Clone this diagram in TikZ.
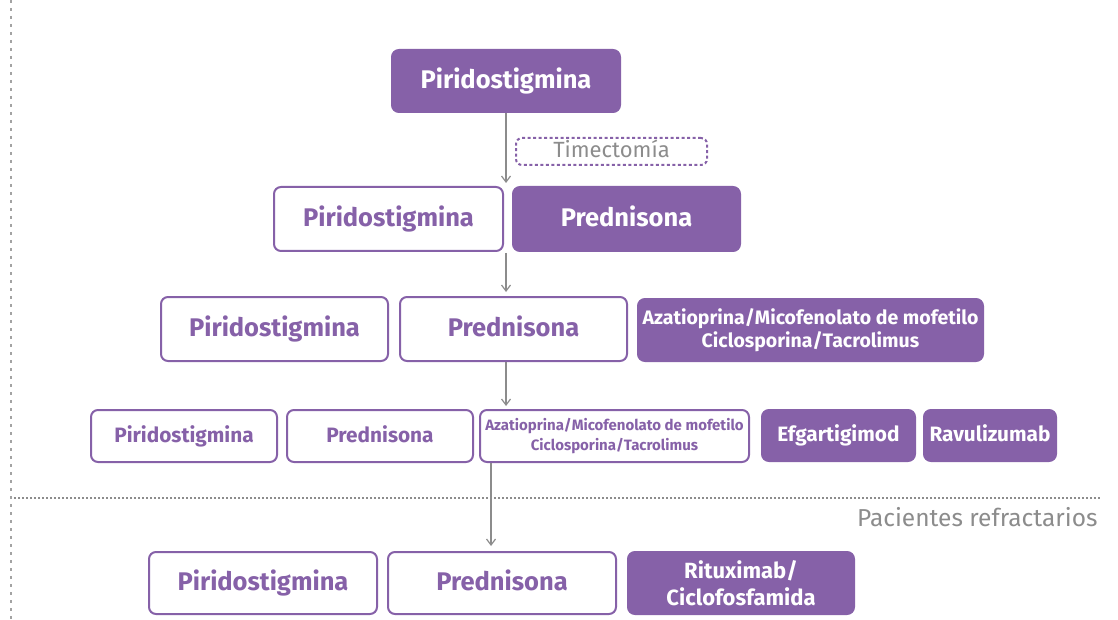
\documentclass[tikz,border=0pt]{standalone}
\usepackage{fontspec}
\setmainfont{Fira Sans}
\usepackage{tikz}
\usetikzlibrary{arrows.meta,positioning,calc}

\definecolor{mgpurple}{HTML}{8661A8}
\definecolor{mggray}{HTML}{8C8C8C}

\newcommand{\bigtxt}{\fontsize{25.5}{28}\selectfont\bfseries}
\newcommand{\rowtxt}{\fontsize{20.8}{24}\selectfont\bfseries}
\newcommand{\azabig}{\fontsize{19.5}{23}\selectfont\bfseries}
\newcommand{\azasmall}{\fontsize{15}{20}\selectfont\bfseries}
\newcommand{\rittxt}{\fontsize{22}{27}\selectfont\bfseries}

\begin{document}
\begin{tikzpicture}[x=1pt,y=-1pt,>={Straight Barb[length=6pt,width=9pt]}]
  \tikzset{
    fillbox/.style={draw=mgpurple, fill=mgpurple, text=white, line width=2pt, rounded corners=7pt, inner sep=0pt, align=center},
    linebox/.style={draw=mgpurple, fill=white, text=mgpurple, line width=2pt, rounded corners=7pt, inner sep=0pt, align=center},
    oneline/.style={execute at begin node={\vphantom{Pg}}},
    gapbox/.style={draw=mgpurple, dash pattern=on 3pt off 2.5pt, line width=2pt, rounded corners=6pt, inner sep=0pt, text=mggray},
    flow/.style={draw=mggray, line width=1.2pt, ->},
    sepline/.style={draw=mggray, line width=2pt, dash pattern=on 2pt off 2pt}
  }
  \useasboundingbox (0,0) rectangle (1118,620);

  % margin and refractory separator
  \draw[draw=mggray!80, line width=2.5pt, dash pattern=on 3pt off 5pt] (11,0) -- (11,620);
  \coordinate (sepl) at (14,498);
  \coordinate (sepr) at (1101,498);
  \draw[sepline] (sepl) -- (sepr);
  \node[anchor=east, text=mggray, font=\fontsize{24.5}{28}\selectfont] (refr) at (1101,517) {Pacientes refractarios};

  % step 1
  \node[fillbox, oneline, minimum width=228pt, minimum height=62pt, font=\bigtxt] (top) at (506,81) {Piridostigmina};
  \node[gapbox, oneline, minimum width=191pt, minimum height=27pt, font=\fontsize{22}{24}\selectfont] (tim) at (611.5,151.5) {Timectomía};

  % step 2
  \node[linebox, oneline, minimum width=229pt, minimum height=64pt, font=\bigtxt] (pir2) at (388.5,219) {Piridostigmina};
  \node[fillbox, oneline, minimum width=227pt, minimum height=64pt, font=\bigtxt] (pre2) at (626.5,219) {Prednisona};

  % step 3
  \node[linebox, oneline, minimum width=227pt, minimum height=64pt, font=\bigtxt] (pir3) at (274.5,329) {Piridostigmina};
  \node[linebox, oneline, minimum width=227pt, minimum height=64pt, font=\bigtxt] (pre3) at (513.5,329) {Prednisona};
  \node[fillbox, minimum width=345pt, minimum height=62pt, font=\azabig] (aza3) at (810.5,330) {Azatioprina/Micofenolato de mofetilo\\Ciclosporina/Tacrolimus};

  % step 4
  \node[linebox, oneline, minimum width=186pt, minimum height=52pt, font=\rowtxt] (pir4) at (184,436) {Piridostigmina};
  \node[linebox, oneline, minimum width=186pt, minimum height=52pt, font=\rowtxt] (pre4) at (380,436) {Prednisona};
  \node[linebox, minimum width=269pt, minimum height=52pt, font=\azasmall] (aza4) at (614.5,436) {Azatioprina/Micofenolato de mofetilo\\Ciclosporina/Tacrolimus};
  \node[fillbox, oneline, minimum width=153pt, minimum height=51pt, font=\rowtxt] (efg4) at (838.5,435.5) {Efgartigimod};
  \node[fillbox, oneline, minimum width=132pt, minimum height=51pt, font=\rowtxt] (rav4) at (990,435.5) {Ravulizumab};

  % step 5
  \node[linebox, oneline, minimum width=228pt, minimum height=62pt, font=\bigtxt] (pir5) at (263,583) {Piridostigmina};
  \node[linebox, oneline, minimum width=228pt, minimum height=62pt, font=\bigtxt] (pre5) at (502,583) {Prednisona};
  \node[fillbox, minimum width=226pt, minimum height=62pt, font=\rittxt] (rit5) at (741,583) {Rituximab/\\Ciclofosfamida};

  % arrows between steps
  \coordinate (a1) at (506,183);
  \coordinate (g2) at (506,253);
  \coordinate (a2) at (506,292);
  \coordinate (a3) at (506,406);
  \coordinate (a4) at (491,546);
  \draw[flow] (top.south) -- (a1);
  \draw[flow] (g2) -- (a2);
  \draw[flow] (pre3.south -| a3) -- (a3);
  \draw[flow] (aza4.south -| a4) -- (a4);
\end{tikzpicture}
\end{document}
